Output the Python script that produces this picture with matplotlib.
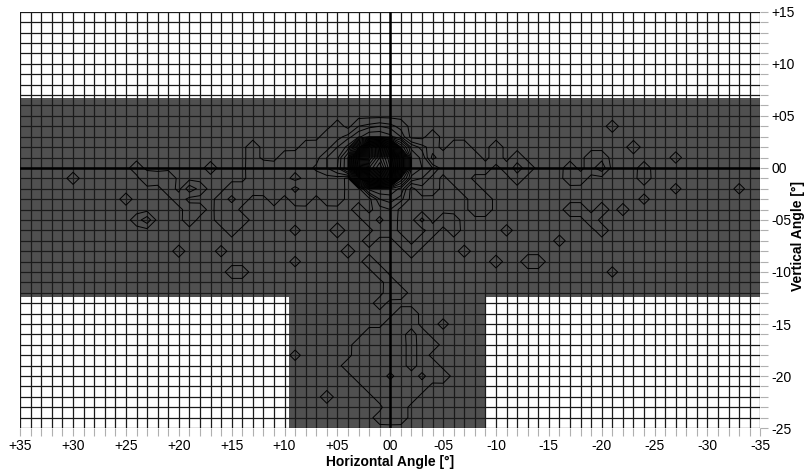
import matplotlib
matplotlib.use("Agg")
import matplotlib.pyplot as plt
import numpy as np

plt.rcParams['font.family'] = ['Liberation Sans', 'DejaVu Sans']

# measured field (degrees), T-shaped area where the sensor has data
band_y = (-12.4, 6.7)      # horizontal band
stripe_x = (-9.1, 9.6)     # vertical stripe below the band

# intensity cells on the 1 degree grid: (horizontal, vertical, value)
core_cells = [
    (3, 2, 20), (2, 2, 40), (1, 2, 45), (0, 2, 35), (-1, 2, 12),
    (4, 1, 10), (3, 1, 40), (2, 1, 60), (1, 1, 68), (0, 1, 60), (-1, 1, 30), (-2, 1, 6),
    (4, 0, 10), (3, 0, 42), (2, 0, 66), (1, 0, 72), (0, 0, 62), (-1, 0, 30), (-2, 0, 6),
    (3, -1, 20), (2, -1, 40), (1, -1, 45), (0, -1, 38), (-1, -1, 12), (-2, -1, 4),
    (2, -2, 5), (1, -2, 6), (0, -2, 6), (-1, -2, 4),
    (3, 3, 4), (2, 3, 6), (1, 3, 6), (0, 3, 5), (-1, 3, 3),
    (3, 4, 2), (2, 4, 2.5), (1, 4, 3), (0, 4, 2.5), (-1, 4, 1.5),
    (5, 1, 4), (5, 0, 4.5), (6, 1, 3), (6, 0, 3), (5, 2, 3), (4, 2, 5), (4, 3, 2.5),
    (-3, 1, 4), (-3, 0, 4.5), (-4, 0, 3), (-3, -1, 3), (-2, 2, 4), (-3, 2, 2.5),
    (1, -3, 3), (0, -3, 3.5), (-1, -3, 2.5), (0, -4, 2), (1, -4, 1.5),
]

left_cells = [
    (5, 4, 1.3), (5, 3, 1.5), (6, 3, 1.5),
    (6, 2, 1.5), (7, 2, 1.5), (8, 2, 1.4),
    (7, 1, 1.6), (8, 1, 1.5), (9, 1, 1.5), (10, 1, 1.4),
    (7, 0, 2.2), (8, 0, 1.6), (9, 0, 1.6), (10, 0, 1.5), (11, 0, 1.4),
    (5, -1, 1.5), (6, -1, 1.6), (7, -1, 1.5), (8, -1, 1.6), (9, -1, 2.5), (10, -1, 1.5), (11, -1, 1.4),
    (5, -2, 1.6), (6, -2, 1.5), (7, -2, 1.5), (8, -2, 1.4), (10, -2, 1.5), (11, -2, 1.6),
    (5, -3, 1.5), (6, -3, 1.4), (8, -3, 1.5), (9, -3, 1.4), (11, -3, 1.4),
    (13, 2, 1.5), (13, 1, 1.5), (13, 0, 1.6), (12, 0, 2.0), (13, -1, 1.5), (12, -1, 1.5),
    (15, -2, 1.5), (14, -2, 1.5), (13, -2, 1.4), (12, -2, 1.5), (14, -3, 1.4), (16, -3, 1.4),
    (17, 0, 1.3),
    (16, -4, 1.5), (15, -4, 1.5), (15, -5, 1.6), (14, -5, 1.5), (15, -6, 1.4), (16, -5, 1.4),
    (24, 0, 1.5), (23, -1, 2.0), (22, -1, 1.5), (21, -1, 2.0), (21, -2, 1.5),
    (19, -2, 3.0), (20, -3, 1.5), (18, -2, 1.5), (19, -4, 1.4),
    (30, -1, 1.2), (25, -3, 1.2), (23, -5, 3.0), (24, -5, 1.2),
    (19, -5, 1.5), (18, -4, 1.3), (20, -8, 1.2), (16, -8, 1.1),
    (15, -10, 1.3), (14, -10, 1.3), (9, -6, 1.0), (9, -9, 1.0),
]

right_cells = [
    (-4, 3, 1.5), (-4, 2, 1.3),
    (-6, 2, 1.5), (-7, 2, 1.5), (-8, 1, 1.5), (-7, 1, 1.5), (-6, 1, 1.5), (-5, 1, 1.5),
    (-10, 2, 1.5), (-10, 1, 1.5),
    (-5, 0, 1.4), (-6, 0, 1.4), (-7, 0, 1.4), (-8, 0, 1.4), (-9, 0, 1.4),
    (-11, 0, 1.3), (-12, 0, 2.5), (-12, 1, 1.5), (-13, 0, 1.5), (-12, -1, 1.5),
    (-4, -1, 1.6), (-6, -1, 1.5), (-7, -1, 1.5), (-4, -2, 1.5), (-3, -2, 1.6),
    (-8, -2, 1.5), (-7, -2, 1.5), (-8, -3, 1.5), (-9, -3, 1.5), (-8, -4, 1.5), (-9, -4, 1.5),
    (-17, 0, 1.4), (-17, -1, 1.6), (-18, -1, 1.5),
    (-20, 0, 3.0), (-19, 0, 1.5), (-20, 1, 1.5), (-19, 1, 1.5),
    (-21, 4, 1.2), (-23, 2, 1.4), (-24, -1, 1.5), (-24, 0, 1.3),
    (-27, 1, 1.1), (-27, -2, 1.0), (-24, -3, 1.0), (-33, -2, 1.0),
    (-17, -4, 1.5), (-18, -4, 1.5), (-22, -4, 1.2), (-20, -4, 1.6), (-19, -5, 1.6), (-20, -6, 1.4),
    (-16, -7, 1.1), (-13, -9, 1.5), (-14, -9, 1.5), (-10, -9, 1.3), (-21, -10, 1.0),
    (-6, -5, 1.2), (-7, -8, 1.2), (-11, -6, 1.1),
]

lower_cells = [
    (3, -4, 1.5), (2, -5, 1.5), (1, -6, 1.5), (0, -5, 1.6), (0, -6, 1.5),
    (-1, -7, 1.5), (-2, -8, 1.5), (-3, -7, 1.5), (-4, -6, 1.5), (-5, -5, 1.5), (-6, -6, 1.4),
    (-3, -5, 2.5), (2, -7, 1.4), (5, -6, 1.8), (4, -8, 1.5), (2, -9, 1.6), (1, -10, 1.6),
    (0, -11, 1.4), (0, -12, 1.5), (-1, -12, 1.4), (1, -13, 1.3),
    (-1, -14, 1.5), (-2, -14, 1.5), (0, -15, 1.5), (-1, -15, 1.5), (-2, -15, 1.6),
    (2, -16, 1.5), (1, -16, 1.5), (0, -16, 1.5), (-1, -16, 1.6), (-2, -16, 2.5), (-3, -16, 1.4),
    (3, -17, 1.4), (2, -17, 1.5), (1, -17, 1.6), (0, -17, 1.5), (-1, -17, 1.5), (-2, -17, 2.5),
    (-3, -17, 1.5), (-4, -17, 1.4),
    (3, -18, 1.5), (2, -18, 1.5), (1, -18, 1.5), (0, -18, 1.6), (-1, -18, 1.5), (-2, -18, 2.5),
    (-3, -18, 1.5),
    (4, -19, 1.4), (3, -19, 1.5), (2, -19, 1.8), (1, -19, 1.8), (0, -19, 1.5), (-1, -19, 1.5),
    (-2, -19, 2.5), (-3, -19, 1.5), (-4, -19, 1.6),
    (3, -20, 1.4), (2, -20, 1.5), (1, -20, 1.5), (-1, -20, 1.5), (-2, -20, 1.5), (-4, -20, 1.5),
    (-5, -20, 1.6),
    (2, -21, 1.4), (1, -21, 1.5), (0, -21, 1.5), (-1, -21, 1.6), (-2, -21, 1.5), (-3, -21, 1.4),
    (1, -22, 1.4), (0, -22, 1.8), (-1, -22, 1.5), (-2, -22, 1.4),
    (0, -23, 2.0), (-1, -23, 1.5), (1, -24, 1.4), (0, -24, 1.6), (-1, -24, 1.5),
    (-5, -15, 1.0), (9, -18, 1.0), (6, -22, 1.3),
]

levels = [0.5, 2, 3, 4.5] + list(range(6, 74, 2))

h_ticks = np.arange(35, -36, -5)
v_ticks = np.arange(-25, 16, 5)


def angle_label(v):
    if v == 0:
        return "00"
    return f"{v:+03d}"


# build the grid from the cells
xs = np.arange(-35, 36)
ys = np.arange(-25, 16)
Z = np.zeros((len(ys), len(xs)))
for cx, cy, val in core_cells + left_cells + right_cells + lower_cells:
    Z[cy + 25, cx + 35] = val

fig = plt.figure(figsize=(8.08, 4.72), dpi=100)
ax = fig.add_axes([0.025, 0.093, 0.916, 0.882])

fill = '#505050'
ax.axhspan(band_y[0], band_y[1], color=fill, lw=0, zorder=0)
ax.fill_between(stripe_x, -25, band_y[0], color=fill, lw=0, zorder=0)

ax.contour(xs, ys, Z, levels=levels, colors='black', linewidths=0.7, zorder=2)

# 1 degree grid
for gx in xs:
    ax.axvline(gx, color='#1a1a1a', lw=0.9, zorder=1)
for gy in ys:
    ax.axhline(gy, color='#1a1a1a', lw=0.9, zorder=1)
ax.axvline(0, color='black', lw=1.8, zorder=3)
ax.axhline(0, color='black', lw=1.8, zorder=3)

ax.set_xlim(35, -35)
ax.set_ylim(-25, 15)
for s in ax.spines.values():
    s.set_visible(False)

ax.set_xticks(h_ticks)
ax.set_xticklabels([angle_label(v) for v in h_ticks], fontsize=10)
ax.set_xticks(xs, minor=True)
ax.yaxis.tick_right()
ax.set_yticks(v_ticks)
ax.set_yticklabels([angle_label(v) for v in v_ticks], fontsize=10)
ax.set_yticks(ys, minor=True)
ax.tick_params(which='both', direction='out', length=6, width=0.8, color='#b0b0b0', pad=2)

ax.set_xlabel("Horizontal Angle [°]", fontsize=10, fontweight='bold', labelpad=1)
fig.text(0.988, 0.5, "Vertical Angle [°]", rotation=90, ha='center', va='center',
         fontsize=10, fontweight='bold')

fig.savefig("out.png", dpi=100)
